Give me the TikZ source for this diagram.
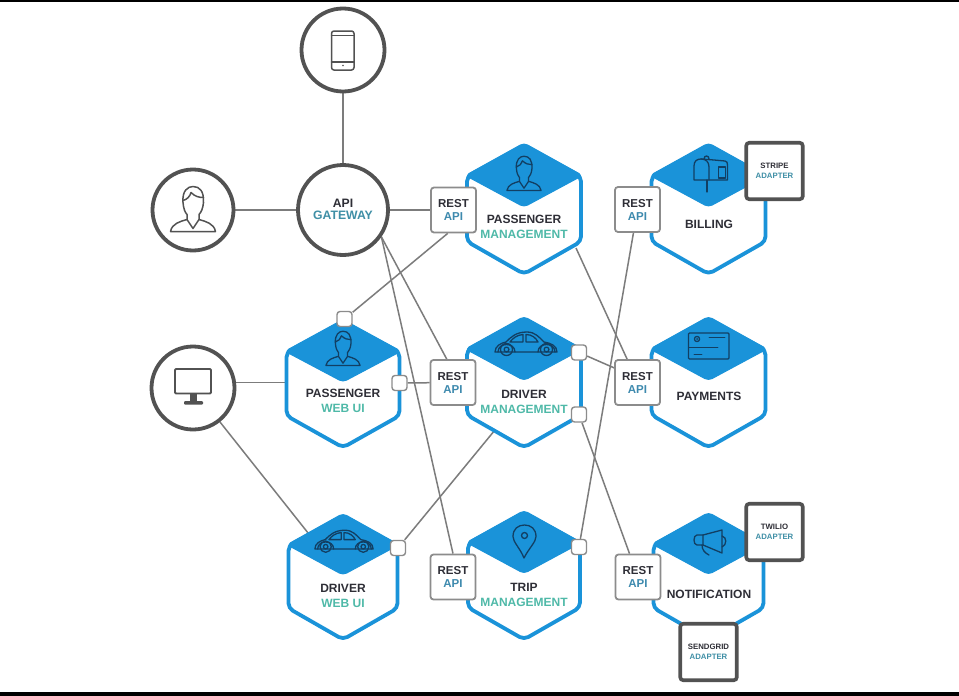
\documentclass[tikz,border=0pt]{standalone}
\usepackage{fontspec}
\setmainfont{Liberation Sans}
\usetikzlibrary{backgrounds,calc}
\definecolor{hexblue}{HTML}{1A93D9}
\definecolor{inkline}{HTML}{123F63}
\definecolor{txt}{HTML}{2E2E36}
\definecolor{tealA}{HTML}{4FB9A8}
\definecolor{tealB}{HTML}{3F8FA6}
\definecolor{apiblue}{HTML}{3E8AAE}
\definecolor{ringgray}{HTML}{525252}
\definecolor{wiregray}{HTML}{7C7C7C}
\definecolor{boxgray}{HTML}{8C8C8C}
\tikzset{
  hexbase/.style={inner sep=0pt,outer sep=0pt},
  hexline/.style={draw=hexblue,line width=3.8pt,fill=white,rounded corners=5pt,line join=round},
  hexcap/.style={draw=hexblue,line width=1pt,fill=hexblue,rounded corners=4pt,line join=round},
  ring/.style={circle,draw=ringgray,line width=3.8pt,fill=white,inner sep=0pt,outer sep=1.9pt},
  wire/.style={draw=wiregray,line width=1.5pt},
  restbox/.style={draw=boxgray,line width=1.8pt,fill=white,rounded corners=3pt,minimum size=45pt,inner sep=0pt,outer sep=.9pt,align=center,font=\fontsize{11.5}{13}\selectfont\bfseries,text=txt},
  portbox/.style={draw=boxgray,line width=1.4pt,fill=white,rounded corners=3pt,minimum size=15pt,inner sep=0pt},
  adapterbox/.style={draw=ringgray,line width=3.6pt,fill=white,rounded corners=3pt,minimum size=56.5pt,inner sep=0pt,align=center,font=\fontsize{7.8}{9.8}\selectfont\bfseries,text=txt},
  hextext/.style={inner sep=0pt,align=center,font=\fontsize{12}{15}\selectfont\bfseries,text=txt},
  gwtext/.style={inner sep=0pt,align=center,font=\fontsize{12.2}{12.5}\selectfont\bfseries,text=txt},
  icon/.style={draw=inkline,line width=1.3pt,line join=round,line cap=round},
  darkicon/.style={draw=ringgray,line width=1.5pt,line join=round,line cap=round}
}
\newcommand\hexa[5]{%
  \node[hexbase,minimum width={2*#4 pt},minimum height={2*#5 pt}] (#1) at (#2,#3) {};
  \path[hexline,shift={(#1.center)}] (0,{-#5+1.5}) -- (#4,{-0.5*#5}) -- (#4,{0.5*#5}) -- (0,#5) -- ({-#4},{0.5*#5}) -- ({-#4},{-0.5*#5}) -- cycle;
  \path[hexcap,shift={(#1.center)}] (0,{-#5-1}) -- ({#4+1.5},{-0.5*#5-1}) -- (0,-2) -- ({-#4-1.5},{-0.5*#5-1}) -- cycle;
}
\newcommand\personicon[4][icon]{%
  \begin{scope}[shift={(#2,#3)},scale=#4]
    \draw[#1] (-10,-8) .. controls (-11,-20) and (-5,-24) .. (0,-24) .. controls (7,-24) and (11,-19) .. (10.5,-8) .. controls (10,-2) and (8,2) .. (6,4) -- (6,9) -- (0,18) -- (-6,9) -- (-6,4) .. controls (-8,2) and (-9.5,-2) .. (-10,-8) -- cycle;
    \draw[#1] (-10,-10) .. controls (-6,-11) and (-3,-14) .. (-2,-18) .. controls (2,-14) and (6,-13) .. (10.5,-13);
    \draw[#1] (-6,9) .. controls (-13,11) and (-21,13) .. (-22.5,21) -- (22.5,21) .. controls (21,13) and (13,11) .. (6,9);
  \end{scope}}
\newcommand\caricon[3]{%
  \begin{scope}[shift={(#1,#2)},scale=#3]
    \draw[icon] (-31,8) .. controls (-31,2) and (-25,-1) .. (-20,-2) .. controls (-15,-7) and (-10,-12) .. (1,-12) .. controls (9,-12) and (13,-7) .. (18,-2) .. controls (25,-1) and (31,2) .. (31,8) -- cycle;
    \draw[icon] (-16,-2) .. controls (-13,-6) and (-9,-9) .. (-3,-9.5) -- (-3,-2) -- cycle;
    \draw[icon] (0,-9.5) .. controls (6,-9.5) and (10,-6) .. (12,-2) -- (0,-2) -- cycle;
    \draw[icon] (-28,8) .. controls (-28,-2) and (-11,-2) .. (-11,8);
    \draw[icon] (12,8) .. controls (12,-2) and (29,-2) .. (29,8);
    \draw[icon] (-19.5,5.5) circle (6);
    \draw[icon] (20.5,5.5) circle (6);
    \draw[icon] (-19.5,5.5) circle (2.4);
    \draw[icon] (20.5,5.5) circle (2.4);
  \end{scope}}
\begin{document}
\begin{tikzpicture}[x=1pt,y=-1pt]
\useasboundingbox (0,0) rectangle (959,696);

% client and gateway circles
\node[ring,minimum size=83pt] (phone) at (343,50) {};
\node[ring,minimum size=81pt] (user) at (193,210) {};
\node[ring,minimum size=90pt] (gw) at (343,210) {};
\node[ring,minimum size=83pt] (desk) at (193,388) {};
\node[gwtext] (gwT) at (343,209.5) {API\\\textcolor{tealB}{GATEWAY}};

% hexagon services
\hexa{pm}{524}{209}{57}{65}
\hexa{dm}{524}{382.5}{57}{65}
\hexa{tm}{524}{575.5}{56}{64}
\hexa{pw}{343}{384}{56.5}{63.5}
\hexa{dw}{343}{577}{54.5}{62.5}
\hexa{bi}{708.5}{209}{57}{65}
\hexa{pa}{708.5}{382.5}{57}{65}
\hexa{no}{708.5}{576.5}{55}{63}

% hexagon labels
\node[hextext] (pmT) at (524,226.5) {PASSENGER\\\textcolor{tealA}{MANAGEMENT}};
\node[hextext] (dmT) at (524,401.5) {DRIVER\\\textcolor{tealA}{MANAGEMENT}};
\node[hextext] (tmT) at (524,594.5) {TRIP\\\textcolor{tealA}{MANAGEMENT}};
\node[hextext] (pwT) at (343,400.5) {PASSENGER\\\textcolor{tealA}{WEB UI}};
\node[hextext] (dwT) at (343,595.5) {DRIVER\\\textcolor{tealA}{WEB UI}};
\node[hextext] (biT) at (709,224) {BILLING};
\node[hextext] (paT) at (709,396) {PAYMENTS};
\node[hextext] (noT) at (709,594) {NOTIFICATION};

% REST boxes
\node[restbox] (rP) at (453.5,210) {REST\\\textcolor{apiblue}{API}};
\node[restbox] (rD) at (453,382.5) {REST\\\textcolor{apiblue}{API}};
\node[restbox] (rT) at (453,577) {REST\\\textcolor{apiblue}{API}};
\node[restbox] (rB) at (637.5,209.5) {REST\\\textcolor{apiblue}{API}};
\node[restbox] (rA) at (637.5,382.5) {REST\\\textcolor{apiblue}{API}};
\node[restbox] (rN) at (638,577) {REST\\\textcolor{apiblue}{API}};

% ports
\node[portbox] (pP) at (344.5,319) {};
\node[portbox] (pW) at (399.5,383) {};
\node[portbox] (pD1) at (579,352.5) {};
\node[portbox] (pD2) at (579,414.5) {};
\node[portbox] (pV) at (398,548) {};
\node[portbox] (pT) at (579,547) {};

% adapters
\node[adapterbox] (stripe) at (774.5,171) {STRIPE\\\textcolor{tealB}{ADAPTER}};
\node[adapterbox] (twilio) at (774.5,532) {TWILIO\\\textcolor{tealB}{ADAPTER}};
\node[adapterbox] (sendgrid) at (708.5,652) {SENDGRID\\\textcolor{tealB}{ADAPTER}};

% icons
\personicon[darkicon]{193}{210.5}{1}
\personicon{524}{174.5}{.76}
\personicon{343}{349.5}{.76}
\caricon{526}{344}{1}
\caricon{344}{541.5}{.94}
% phone
\draw[darkicon,rounded corners=2.5pt] (331.5,31) rectangle (354,70);
\draw[darkicon] (331.5,35.5) -- (354,35.5) (331.5,62) -- (354,62);
\fill[ringgray] (343,65.5) circle (.9);
% monitor
\draw[darkicon,line width=1.8pt,rounded corners=1pt] (175,369) rectangle (211,393.5);
\fill[ringgray] (190,393.5) rectangle (197,401);
\fill[ringgray,rounded corners=1pt] (184,401) rectangle (203,404.5);
% mailbox
\draw[icon] (707,192) -- (707,180);
\draw[icon] (694,180) -- (694,166) .. controls (694,161) and (697,159) .. (701,159) -- (714,160) -- (725,161) .. controls (727,161) and (727.5,163) .. (727.5,165) -- (727.5,180) -- cycle;
\draw[icon] (701,159) .. controls (706,159) and (709,162) .. (709,167) -- (709,180);
\draw[icon] (718.5,167) rectangle (725.5,178);
\draw[icon] (704,159) .. controls (704,155) and (709,155) .. (709,159);
% card
\draw[icon,rounded corners=1pt] (688.5,333) rectangle (729,359);
\draw[icon] (697,339) circle (2.6);
\fill[inkline] (697,339) circle (1);
\draw[icon,line width=.7pt] (709,337) -- (725,337) (689,347) -- (718,347) (694,354) -- (702,354);
% pin
\draw[icon] (524,558) .. controls (520,548) and (513,542) .. (513,536.5) .. controls (513,529) and (518,525) .. (524.5,525) .. controls (531,525) and (536,529) .. (536,536.5) .. controls (536,542) and (529,548) .. (524,558) -- cycle;
\draw[icon] (524.5,535.5) circle (3);
% megaphone
\draw[icon] (703,535) -- (722,530) -- (722,553) -- (703,545) -- cycle;
\draw[icon] (703,535) -- (697,535) .. controls (693,535) and (693,545) .. (697,545) -- (703,545);
\draw[icon] (722,536) .. controls (727,537) and (727,545) .. (722,547);
\draw[icon] (702,545) .. controls (702,550) and (705,553) .. (709,555);

\begin{pgfonlayer}{background}
  \fill[white] (0,0) rectangle (959,696);
  \fill[black] (0,0) rectangle (959,1.5);
  \fill[black] (0,692) rectangle (959,696);
  \coordinate (pmOut) at (576,248);
  \draw[wire] (phone) -- (gw);
  \draw[wire] (user) -- (gw);
  \draw[wire] (gw) -- (rP);
  \draw[wire] (gw.-35) -- (rD.105);
  \draw[wire] (gw.-35) -- (rT.north);
  \draw[wire] (pP) -- (rP.-104);
  \draw[wire] (pW) -- (rD);
  \draw[wire] (desk.7) -- (desk.7 -| pw.center);
  \draw[wire] (desk) -- (dw.center);
  \draw[wire] (pV) -- ([xshift=10pt]dm.center);
  \draw[wire] (pmOut) -- (rA.114);
  \draw[wire] (pD1) -- (rA.148);
  \draw[wire] (pD2) -- (rN);
  \draw[wire] (pT) -- (rB);
\end{pgfonlayer}
\end{tikzpicture}
\end{document}
